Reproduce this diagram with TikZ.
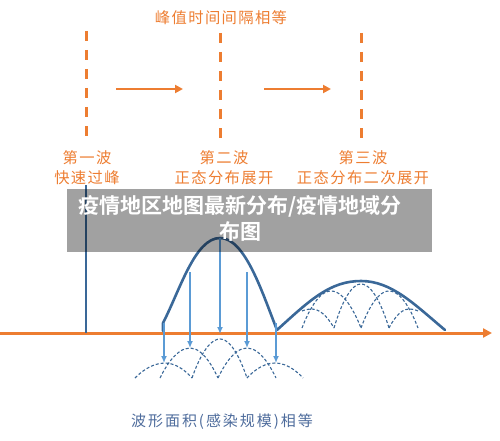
\documentclass[tikz,border=0pt]{standalone}
\usepackage{fontspec}
\newfontfamily\cjklab[LetterSpace=9]{Noto Sans CJK SC}
\newfontfamily\cjkfoot[LetterSpace=13]{Noto Sans CJK SC}
\newfontfamily\cjkbold{Noto Sans CJK SC Bold}
\usetikzlibrary{arrows.meta}
\definecolor{orng}{RGB}{237,125,49}
\definecolor{dblue}{RGB}{58,104,152}
\definecolor{lblue}{RGB}{91,155,213}
\definecolor{txtblue}{RGB}{78,108,156}
\begin{document}
\begin{tikzpicture}[x=1pt,y=-1pt,
  otext/.style={text=orng,font=\cjklab\fontsize{15.3}{17}\selectfont,inner sep=0pt},
  ftext/.style={text=txtblue,font=\cjkfoot\fontsize{15}{17}\selectfont,inner sep=0pt},
  odash/.style={draw=orng,line width=3pt,dash pattern=on 10pt off 9pt},
  oarrow/.style={draw=orng,line width=2.5pt,-{Triangle[length=8pt,width=8pt]}},
  axisline/.style={draw=orng,line width=3pt,-{Triangle[length=9pt,width=9pt]}},
  bigcurve/.style={draw=dblue,line width=2.6pt,line join=round,line cap=round},
  larrow/.style={draw=lblue,line width=2pt,-{Latex[length=7pt,width=6pt]}},
  darc/.style={draw=dblue,line width=1.1pt,dash pattern=on 3pt off 2pt},
  banner/.style={fill=black,fill opacity=0.37,draw=none},
  bannertext/.style={text=white,font=\cjkbold\fontsize{21}{26}\selectfont,align=center,inner sep=0pt}]
\useasboundingbox (0,0) rectangle (500,441);

% title
\node[otext] (title) at (221,18) {峰值时间间隔相等};

% dashed separators
\coordinate (d1t) at (86,31);  \coordinate (d1b) at (86,137);
\coordinate (d2t) at (220,33); \coordinate (d2b) at (220,140);
\coordinate (d3t) at (361,33); \coordinate (d3b) at (361,140);
\draw[odash] (d1t) -- (d1b);
\draw[odash] (d2t) -- (d2b);
\draw[odash] (d3t) -- (d3b);

% interval arrows
\coordinate (a1s) at (116,89); \coordinate (a1e) at (183,89);
\coordinate (a2s) at (264,89); \coordinate (a2e) at (331,89);
\draw[oarrow] (a1s) -- (a1e);
\draw[oarrow] (a2s) -- (a2e);

% wave labels
\node[otext] (w1a) at (87,158) {第一波};
\node[otext] (w1b) at (87,178) {快速过峰};
\node[otext] (w2a) at (224,158) {第二波};
\node[otext] (w2b) at (224,178) {正态分布展开};
\node[otext] (w3a) at (363,158) {第三波};
\node[otext] (w3b) at (363,178) {正态分布二次展开};

% axis
\coordinate (ax0) at (0,333); \coordinate (ax1) at (492,333);
\draw[axisline] (ax0) -- (ax1);

% first wave spike
\coordinate (v1t) at (86,185); \coordinate (v1b) at (86,333);
\draw[draw=dblue,line width=2.5pt] (v1t) -- (v1b);

% lower dashed arcs
\draw[darc] (135,378) parabola bend (165,363) (192,378);
\draw[darc] (160,378) parabola bend (190,348) (218,378);
\draw[darc] (192,378) parabola bend (220,339) (247,378);
\draw[darc] (218,378) parabola bend (247,348) (276,378);
\draw[darc] (247,378) parabola bend (275,363) (303,378);

% upper dashed arcs
\draw[darc] (302,311) parabola bend (312,309) (334,328);
\draw[darc] (302,328) parabola bend (331,291) (361,328);
\draw[darc] (334,328) parabola bend (361,284) (389,328);
\draw[darc] (361,328) parabola bend (389,291) (418,328);
\draw[darc] (389,328) parabola bend (409,309) (418,311);

% second wave curve
\draw[bigcurve] (163,331) -- (163,323) .. controls (180,290) and (195,238) .. (220,238)
  .. controls (245,238) and (262,292) .. (277,330);
% third wave curve
\draw[bigcurve] (277,330) .. controls (310,300) and (330,281) .. (361,281)
  .. controls (392,281) and (415,305) .. (445,330);

% projection arrows
\coordinate (p1) at (164,323); \coordinate (q1) at (164,363);
\coordinate (p2) at (190,272); \coordinate (q2) at (190,348);
\coordinate (p3) at (220,238); \coordinate (q3) at (220,334);
\coordinate (p4) at (247,272); \coordinate (q4) at (247,348);
\coordinate (p5) at (276,323); \coordinate (q5) at (276,363);
\draw[larrow] (p1) -- (q1);
\draw[larrow] (p2) -- (q2);
\draw[larrow] (p3) -- (q3);
\draw[larrow] (p4) -- (q4);
\draw[larrow] (p5) -- (q5);

% footer
\node[ftext] (foot) at (222,422) {波形面积(感染规模)相等};

% banner overlay
\fill[banner] (67,189) rectangle (432,252);
\node[bannertext] (bt) at (240,218) {疫情地区地图最新分布/疫情地域分\\布图};
\end{tikzpicture}
\end{document}
